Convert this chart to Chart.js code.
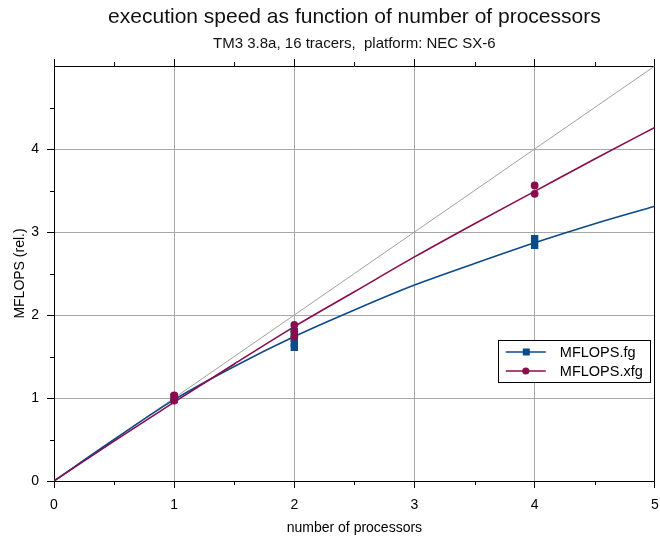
<!DOCTYPE html>
<html>
<head>
<meta charset="utf-8">
<title>execution speed as function of number of processors</title>
<script src="https://cdn.jsdelivr.net/npm/chart.js@4.4.1/dist/chart.umd.min.js"></script>
<style>
  html, body { margin: 0; padding: 0; background: #fff; }
  #wrap { width: 660px; height: 537px; }
</style>
</head>
<body>
<div id="wrap"><canvas id="speedChart" width="660" height="537"></canvas></div>
<script>
// fitted curves
const procs = [0, 0.5, 1, 1.5, 2, 2.5, 3, 3.5, 4, 4.5, 5];
const fitFg = [0, 0.50, 0.98, 1.38, 1.74, 2.06, 2.36, 2.62, 2.87, 3.10, 3.31];
const fitXfg = [0, 0.48, 0.95, 1.41, 1.86, 2.28, 2.70, 3.10, 3.49, 3.88, 4.26];

// ideal (linear) speedup
const idealX = [0, 5];
const idealY = [0, 5];

// measured points
const fgX = [1, 1, 2, 2, 2, 2, 4, 4];
const fgY = [1.02, 0.98, 1.80, 1.72, 1.66, 1.61, 2.92, 2.84];
const xfgX = [1, 1, 2, 2, 2, 4, 4];
const xfgY = [1.03, 0.97, 1.88, 1.80, 1.74, 3.56, 3.46];

const xTicks = [0, 1, 2, 3, 4, 5];
const yTicks = [0, 1, 2, 3, 4];
const minorTicks = [0.5, 1.5, 2.5, 3.5, 4.5];

const blue = "#0b4a8c";
const red = "#8a0c4c";

const pts = (xs, ys) => xs.map((x, i) => ({ x: x, y: ys[i] }));

Chart.defaults.font.family = "'Liberation Sans', Arial, sans-serif";
Chart.defaults.color = "#000";

// short minor ticks on bottom, top and left axes
const minorTickPlugin = {
    id: "minorTicks",
    afterDraw(chart) {
        const { ctx, chartArea } = chart;
        const xs = chart.scales.x, ys = chart.scales.y;
        ctx.save();
        ctx.strokeStyle = "#000";
        ctx.lineWidth = 1;
        ctx.beginPath();
        minorTicks.forEach(v => {
            const px = Math.round(xs.getPixelForValue(v)) + 0.5;
            ctx.moveTo(px, chartArea.bottom);
            ctx.lineTo(px, chartArea.bottom + 4);
            ctx.moveTo(px, chartArea.top);
            ctx.lineTo(px, chartArea.top - 4);
            const py = Math.round(ys.getPixelForValue(v)) + 0.5;
            ctx.moveTo(chartArea.left, py);
            ctx.lineTo(chartArea.left - 4, py);
        });
        ctx.stroke();
        ctx.restore();
    }
};

// boxed legend with line + marker samples
const boxLegendPlugin = {
    id: "boxLegend",
    afterDraw(chart) {
        const { ctx, chartArea } = chart;
        const items = chart.data.datasets.filter(d => d.legend);
        const right = chartArea.right - 5;
        const left = right - 152;
        const top = 340;
        const rowH = 19;
        ctx.save();
        ctx.fillStyle = "#fff";
        ctx.fillRect(left, top, right - left, items.length * rowH + 4);
        ctx.strokeStyle = "#000";
        ctx.lineWidth = 1;
        ctx.strokeRect(Math.round(left) + 0.5, top + 0.5, right - left, items.length * rowH + 4);
        ctx.font = "14.5px 'Liberation Sans', Arial, sans-serif";
        ctx.textBaseline = "middle";
        items.forEach((d, i) => {
            const cy = top + 12 + i * rowH;
            ctx.strokeStyle = d.borderColor;
            ctx.lineWidth = 1.5;
            ctx.beginPath();
            ctx.moveTo(left + 8, cy);
            ctx.lineTo(left + 48, cy);
            ctx.stroke();
            ctx.fillStyle = d.backgroundColor;
            if (d.pointStyle === "rect") {
                ctx.fillRect(left + 25, cy - 3.5, 7, 7);
            } else {
                ctx.beginPath();
                ctx.arc(left + 28, cy, 3.6, 0, Math.PI * 2);
                ctx.fill();
            }
            ctx.fillStyle = "#000";
            ctx.fillText(d.label, left + 62, cy + 1);
        });
        ctx.restore();
    }
};

const ctx = document.getElementById("speedChart").getContext("2d");

new Chart(ctx, {
    type: "scatter",
    data: {
        datasets: [
            {
                label: "ideal",
                data: pts(idealX, idealY),
                showLine: true,
                borderColor: "#a0a0a0",
                borderWidth: 1,
                pointRadius: 0,
                order: 4
            },
            {
                label: "fit fg",
                data: pts(procs, fitFg),
                showLine: true,
                borderColor: blue,
                borderWidth: 1.6,
                pointRadius: 0,
                cubicInterpolationMode: "monotone",
                order: 3
            },
            {
                label: "fit xfg",
                data: pts(procs, fitXfg),
                showLine: true,
                borderColor: red,
                borderWidth: 1.6,
                pointRadius: 0,
                cubicInterpolationMode: "monotone",
                order: 2
            },
            {
                label: "MFLOPS.fg",
                legend: true,
                data: pts(fgX, fgY),
                pointStyle: "rect",
                pointRadius: 5.2,
                backgroundColor: blue,
                borderColor: blue,
                borderWidth: 0,
                showLine: false,
                order: 1
            },
            {
                label: "MFLOPS.xfg",
                legend: true,
                data: pts(xfgX, xfgY),
                pointStyle: "circle",
                pointRadius: 3.9,
                backgroundColor: red,
                borderColor: red,
                borderWidth: 0,
                showLine: false,
                order: 0
            }
        ]
    },
    options: {
        responsive: false,
        animation: false,
        layout: { padding: { left: 0, right: 4, top: 0, bottom: 0 } },
        plugins: {
            legend: { display: false },
            tooltip: { enabled: false },
            title: {
                display: true,
                fullSize: false,
                text: "execution speed as function of number of processors",
                color: "#111",
                font: { size: 21, weight: "normal" },
                padding: { top: 5, bottom: 2 }
            },
            subtitle: {
                display: true,
                fullSize: false,
                text: "TM3 3.8a, 16 tracers,  platform: NEC SX-6",
                color: "#111",
                font: { size: 15, weight: "normal" },
                padding: { top: 2.8, bottom: 0 }
            }
        },
        scales: {
            x: {
                type: "linear",
                position: "bottom",
                min: 0,
                max: 5,
                afterBuildTicks: s => { s.ticks = xTicks.map(v => ({ value: v })); },
                afterFit: s => { s.height = 56; s.paddingLeft = 0; s.paddingRight = 0; },
                ticks: { font: { size: 14 }, padding: 9, maxRotation: 0 },
                grid: { color: "#a8a8a8", lineWidth: 1, tickColor: "#000", tickLength: 7 },
                border: { color: "#000", width: 1 },
                title: {
                    display: true,
                    text: "number of processors",
                    font: { size: 14 },
                    padding: { top: 0, bottom: 0 }
                }
            },
            x2: {
                type: "linear",
                position: "top",
                min: 0,
                max: 5,
                afterBuildTicks: s => { s.ticks = xTicks.map(v => ({ value: v })); },
                afterFit: s => { s.height = 13; s.paddingLeft = 0; s.paddingRight = 0; },
                ticks: { display: false },
                grid: { drawOnChartArea: false, tickColor: "#000", tickLength: 7 },
                border: { color: "#000", width: 1 }
            },
            y: {
                type: "linear",
                position: "left",
                min: 0,
                max: 5,
                afterBuildTicks: s => { s.ticks = yTicks.concat([5]).map(v => ({ value: v })); },
                afterFit: s => { s.width = 54; },
                ticks: {
                    font: { size: 14 },
                    padding: 8,
                    callback: v => (yTicks.includes(v) ? String(v) : "")
                },
                grid: {
                    color: "#a8a8a8",
                    lineWidth: 1,
                    tickColor: c => (c.tick && c.tick.value === 5 ? "rgba(0,0,0,0)" : "#000"),
                    tickLength: 7
                },
                border: { color: "#000", width: 1 },
                title: {
                    display: true,
                    text: "MFLOPS (rel.)",
                    font: { size: 14 },
                    padding: { top: 12, bottom: 0 }
                }
            },
            y2: {
                type: "linear",
                position: "right",
                min: 0,
                max: 5,
                ticks: { display: false },
                grid: { drawOnChartArea: false, drawTicks: false },
                border: { color: "#000", width: 1 }
            }
        }
    },
    plugins: [minorTickPlugin, boxLegendPlugin]
});
</script>
</body>
</html>
